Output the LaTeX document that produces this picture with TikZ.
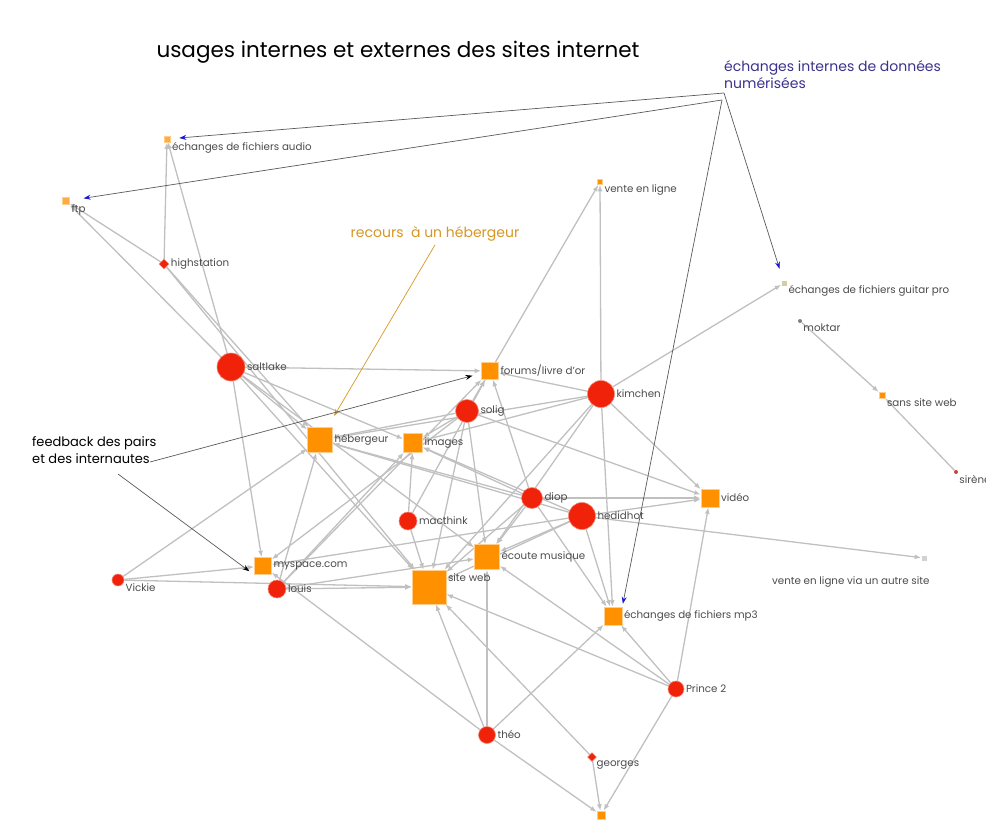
\documentclass[tikz,border=0pt]{standalone}
\usepackage{fontspec}
\setmainfont{Poppins}
\usetikzlibrary{arrows.meta,shapes.geometric,positioning,backgrounds}
\definecolor{persred}{RGB}{240,35,10}
\definecolor{usageorange}{RGB}{255,145,0}
\definecolor{edgegray}{RGB}{192,192,192}
\definecolor{notenavy}{RGB}{60,50,140}
\definecolor{noteblue}{RGB}{25,25,210}
\definecolor{notegold}{RGB}{215,150,35}
\definecolor{lblgray}{RGB}{75,75,75}
\tikzset{
  person/.style={circle, fill=persred, draw=persred!55!white, line width=0.6pt,
    inner sep=0pt, minimum size=#1},
  person/.default=18pt,
  persdiamond/.style={diamond, fill=persred, draw=persred!55!white, line width=0.5pt,
    inner sep=0pt, minimum size=#1},
  usage/.style={rectangle, fill=usageorange, draw=usageorange!45!white, line width=0.6pt,
    inner sep=0pt, minimum size=#1},
  usage/.default=18pt,
  lbl/.style={font=\fontsize{10.3}{12}\selectfont, text=lblgray, inner sep=1.5pt},
  edge/.style={draw=edgegray, line width=1.3pt,
    -{Latex[length=6.5pt,width=5pt]}},
  notearrow/.style={draw=black!65, line width=0.7pt,
    -{Stealth[length=7pt,width=5pt,color=#1]}},
  notearrow/.default=noteblue
}
\begin{document}
\begin{tikzpicture}[x=1pt,y=-1pt]
\useasboundingbox (0,0) rectangle (986,820);

% annotations
\node[font=\fontsize{21.5}{24}\selectfont] (title) at (398,52) {usages internes et externes des sites internet};
\node[font=\fontsize{14}{17}\selectfont, text=notenavy, anchor=north west, align=left, inner sep=0pt]
  (internes) at (724,60) {échanges internes de données\\numérisées};
\node[font=\fontsize{14}{17}\selectfont, text=notegold] (recours) at (435,234) {recours \ à un hébergeur};
\node[font=\fontsize{13}{17}\selectfont, anchor=north west, align=left, inner sep=0pt]
  (feedback) at (32,436) {feedback des pairs\\et des internautes};

% usages
\node[usage=6pt, fill=usageorange!75] (audio) at (167,139) [label={[lbl]-30:échanges de fichiers audio}] {};
\node[usage=7pt, fill=usageorange!75] (ftp) at (66,201) [label={[lbl]-30:ftp}] {};
\node[usage=5pt] (vente) at (600,182) [label={[lbl]-25:vente en ligne}] {};
\node[usage=5pt, fill=gray!40!olive!40, draw=none] (guitar) at (784,283) [label={[lbl]-20:échanges de fichiers guitar pro}] {};
\node[usage=6pt] (sansweb) at (882,395) [label={[lbl]-30:sans site web}] {};
\node[usage=17pt] (forums) at (490,371) [label={[lbl]right:forums/livre d'or}] {};
\node[usage=25pt] (hebergeur) at (320,440) [label={[lbl]right:hébergeur}] {};
\node[usage=19pt] (images) at (413,443) [label={[lbl]right:images}] {};
\node[usage=18pt] (video) at (710,498) [label={[lbl]right:vidéo}] {};
\node[usage=25pt] (ecoute) at (487,557) [label={[lbl]right:écoute musique}] {};
\node[usage=17pt] (myspace) at (263,566) [label={[lbl]right:myspace.com}] {};
\node[usage=5pt, fill=gray!35, draw=none] (autre) at (924,558)
  [label={[lbl, xshift=10pt, yshift=-14pt]below left:vente en ligne via un autre site}] {};
\node[usage=34pt] (siteweb) at (429,587) [label={[lbl]12:site web}] {};
\node[usage=18pt] (mp3) at (613,616) [label={[lbl]right:échanges de fichiers mp3}] {};
\node[usage=8pt] (bottom) at (601,815) {};

% persons
\node[persdiamond=10pt] (highstation) at (164,264) [label={[lbl]right:highstation}] {};
\node[person=4pt, fill=gray, draw=none] (moktar) at (800,321) [label={[lbl]-40:moktar}] {};
\node[person=4pt, fill=persred!60!gray, draw=none] (siren) at (956,472) [label={[lbl]-40:sirène}] {};
\node[person=28pt] (saltlake) at (231,367) [label={[lbl]right:saltlake}] {};
\node[person=27pt] (kimchen) at (601,394) [label={[lbl]right:kimchen}] {};
\node[person=23pt] (solig) at (467,411) [label={[lbl]right:solig}] {};
\node[person=21pt] (diop) at (532,498) [label={[lbl]right:diop}] {};
\node[person=27pt] (hedidhot) at (582,516) [label={[lbl]right:hedidhot}] {};
\node[person=18pt] (macthink) at (408,521) [label={[lbl]right:macthink}] {};
\node[person=12pt] (vickie) at (118,580) [label={[lbl]-20:Vickie}] {};
\node[person=18pt] (louis) at (277,589) [label={[lbl]right:louis}] {};
\node[person=16pt] (prince) at (676,689) [label={[lbl]right:Prince 2}] {};
\node[person=17pt] (theo) at (487,735) [label={[lbl]right:théo}] {};
\node[persdiamond=9pt] (georges) at (592,757) [label={[lbl]-30:georges}] {};

% usage links
\begin{scope}[on background layer]
\foreach \from/\to in {highstation/audio, highstation/ftp, highstation/hebergeur, highstation/siteweb,
    saltlake/audio, saltlake/ftp, saltlake/forums, saltlake/myspace, saltlake/hebergeur,
    saltlake/siteweb, saltlake/ecoute, saltlake/images,
    kimchen/vente, kimchen/forums, kimchen/guitar, kimchen/video, kimchen/images,
    kimchen/hebergeur, kimchen/mp3, kimchen/ecoute, kimchen/siteweb,
    solig/vente, solig/forums, solig/images, solig/hebergeur, solig/siteweb,
    solig/ecoute, solig/video, solig/myspace,
    diop/forums, diop/video, diop/hebergeur, diop/images, diop/siteweb, diop/ecoute, diop/mp3,
    hedidhot/video, hedidhot/autre, hedidhot/hebergeur, hedidhot/images, hedidhot/ecoute,
    hedidhot/mp3, hedidhot/myspace, hedidhot/siteweb,
    macthink/images, macthink/siteweb, macthink/forums,
    vickie/myspace, vickie/siteweb, vickie/hebergeur,
    louis/siteweb, louis/hebergeur, louis/images, louis/ecoute, louis/forums,
    theo/myspace, theo/siteweb, theo/ecoute, theo/mp3, theo/bottom,
    prince/video, prince/mp3, prince/siteweb, prince/ecoute, prince/bottom,
    georges/bottom, georges/siteweb, moktar/sansweb, siren/sansweb}
  \draw[edge] (\from) -- (\to);
\end{scope}

% annotation arrows
\coordinate (intsrc) at (724,93);
\coordinate (intsrc2) at (722,100);
\draw[notearrow, shorten >=9pt] (intsrc) -- (audio);
\draw[notearrow, shorten >=14pt] (intsrc2) -- (ftp);
\draw[notearrow, shorten >=12pt] (intsrc) -- (guitar);
\draw[notearrow, shorten >=3pt] (intsrc2) -- (mp3.north east);
\draw[notearrow=notegold, draw=notegold, shorten >=13pt] (recours.south) -- (hebergeur);
\coordinate (fbsrc) at (150,462);
\coordinate (fbsrc2) at (118,474);
\draw[notearrow=black, shorten >=9pt] (fbsrc) -- (forums);
\draw[notearrow=black, shorten >=6pt] (fbsrc2) -- (myspace.south west);
\end{tikzpicture}
\end{document}
